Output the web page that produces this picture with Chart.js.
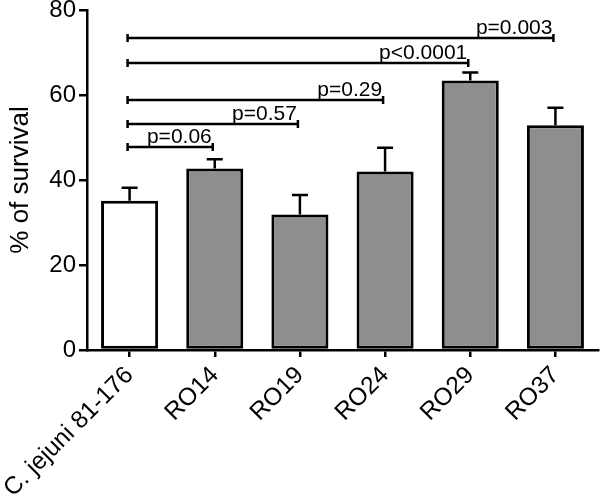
<!DOCTYPE html>
<html>
<head>
<meta charset="utf-8">
<script src="https://cdn.jsdelivr.net/npm/chart.js@4.4.1/dist/chart.umd.min.js"></script>
<style>
    html, body { margin: 0; padding: 0; background: #fff; }
</style>
</head>
<body>
<canvas id="survivalChart" width="600" height="499"></canvas>
<script>
var strains = ["C. jejuni 81-176", "RO14", "RO19", "RO24", "RO29", "RO37"];
var survival = [35.1, 42.7, 31.9, 42.0, 63.4, 52.9];
var survivalErr = [3.1, 2.2, 4.6, 5.6, 1.9, 4.1];
var yTicks = [0, 20, 40, 60, 80];

// comparisons against the wild type (index 0)
var pairFrom = [0, 0, 0, 0, 0];
var pairTo = [1, 2, 3, 4, 5];
var pairHeight = [47.8, 53.1, 58.8, 67.6, 73.3];
var pairLabel = ["p=0.06", "p=0.57", "p=0.29", "p<0.0001", "p=0.003"];

var fontFamily = "'Liberation Sans', Arial, sans-serif";

var errorAndBrackets = {
    id: 'errorAndBrackets',
    afterDatasetsDraw: function (chart) {
        var ctx = chart.ctx;
        var xs = chart.scales.x;
        var ys = chart.scales.y;
        ctx.save();
        ctx.strokeStyle = '#000';
        ctx.lineWidth = 2.5;

        // error bars (upper only)
        chart.getDatasetMeta(0).data.forEach(function (bar, i) {
            var top = ys.getPixelForValue(survival[i]);
            var hi = ys.getPixelForValue(survival[i] + survivalErr[i]);
            ctx.beginPath();
            ctx.moveTo(bar.x, top);
            ctx.lineTo(bar.x, hi);
            ctx.moveTo(bar.x - 8, hi);
            ctx.lineTo(bar.x + 8, hi);
            ctx.stroke();
        });

        // significance brackets
        ctx.fillStyle = '#000';
        ctx.font = "21px " + fontFamily;
        ctx.textAlign = 'right';
        ctx.textBaseline = 'alphabetic';
        for (var k = 0; k < pairTo.length; k++) {
            var x1 = xs.getPixelForValue(pairFrom[k]) - 2;
            var x2 = xs.getPixelForValue(pairTo[k]) - 2;
            var yy = Math.round(ys.getPixelForValue(pairHeight[k]));
            ctx.beginPath();
            ctx.moveTo(x1, yy);
            ctx.lineTo(x2, yy);
            ctx.moveTo(x1, yy - 4);
            ctx.lineTo(x1, yy + 4);
            ctx.moveTo(x2, yy - 4);
            ctx.lineTo(x2, yy + 4);
            ctx.stroke();
            ctx.fillText(pairLabel[k], x2 - 1, yy - 4);
        }
        ctx.restore();
    }
};

var ctx = document.getElementById("survivalChart").getContext('2d');
var myChart = new Chart(ctx, {
    type: 'bar',
    data: {
        labels: strains,
        datasets: [{
                label: "% of survival",
                data: survival,
                backgroundColor: ["#ffffff", "#8e8e8e", "#8e8e8e", "#8e8e8e", "#8e8e8e", "#8e8e8e"],
                borderColor: "#000",
                borderWidth: 3,
                borderSkipped: false,
                barPercentage: 0.67,
                categoryPercentage: 1.0
            }]
    },
    options: {
        responsive: false,
        animation: false,
        layout: {
            padding: {top: 10, right: 2, left: 0, bottom: 0}
        },
        plugins: {
            legend: {display: false},
            tooltip: {enabled: false}
        },
        scales: {
            x: {
                grid: {
                    display: true,
                    drawOnChartArea: false,
                    offset: false,
                    tickLength: 7,
                    color: '#000',
                    lineWidth: 2.5
                },
                border: {display: true, color: '#000', width: 2.5},
                ticks: {
                    color: '#000',
                    font: {family: fontFamily, size: 24.5},
                    maxRotation: 45,
                    minRotation: 45,
                    autoSkip: false,
                    padding: 4
                },
                afterFit: function (scale) {
                    scale.height = 149;
                    scale.paddingLeft = 0;
                    scale.paddingRight = 0;
                }
            },
            y: {
                min: 0,
                max: 80,
                afterBuildTicks: function (scale) {
                    scale.ticks = yTicks.map(function (v) {
                        return {value: v};
                    });
                },
                grid: {
                    display: true,
                    drawOnChartArea: false,
                    tickLength: 8,
                    color: '#000',
                    lineWidth: 2.5
                },
                border: {display: true, color: '#000', width: 2.5},
                ticks: {
                    color: '#000',
                    font: {family: fontFamily, size: 24},
                    padding: 3
                },
                title: {
                    display: true,
                    text: '% of survival',
                    color: '#000',
                    font: {family: fontFamily, size: 26},
                    padding: {top: 5, bottom: 0}
                },
                afterFit: function (scale) {
                    scale.width = 87;
                    scale.paddingTop = 0;
                    scale.paddingBottom = 0;
                }
            }
        }
    },
    plugins: [errorAndBrackets]
});
</script>
</body>
</html>
